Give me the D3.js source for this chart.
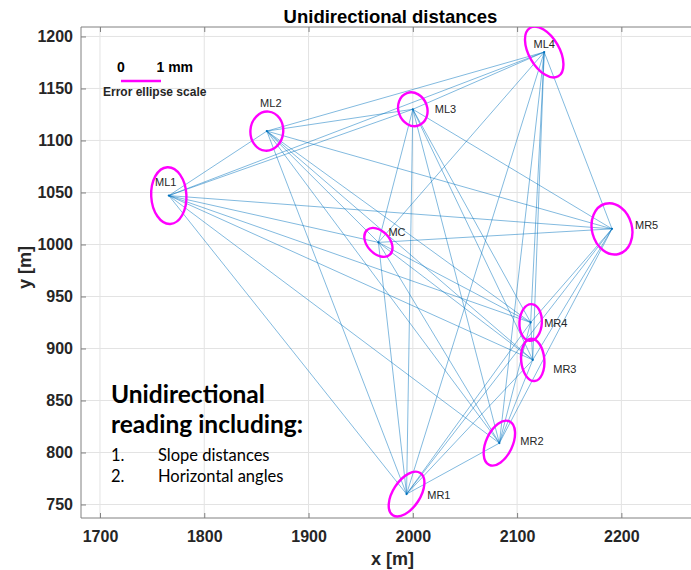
<!DOCTYPE html>
<html><head><meta charset="utf-8">
<script src="https://cdn.jsdelivr.net/npm/d3@7"></script>
<style>html,body{margin:0;padding:0;background:#fff;}svg{display:block;}</style>
</head><body>
<script>
// ---- data ----
const stations = ["ML1","ML2","ML3","ML4","MC","MR5","MR4","MR3","MR2","MR1"];
const stationX = [1766, 1860, 2000, 2126, 1967, 2191, 2113, 2115, 2083, 1994];
const stationY = [1047, 1109, 1130, 1185, 1002, 1015, 925, 889, 809, 760];
// error ellipse semi-axes (mm) and orientation of major axis from vertical (deg, + = top leans right)
const ellipseA = [0.71, 0.49, 0.43, 0.70, 0.42, 0.65, 0.46, 0.53, 0.60, 0.63];
const ellipseB = [0.44, 0.41, 0.36, 0.38, 0.28, 0.50, 0.28, 0.29, 0.33, 0.34];
const ellipseRot = [-3, 5, -20, -30, -43, -15, 3, -5, 25, 33];
// unidirectional observations (from, to)
const obsFrom = ["ML1","ML1","ML1","ML1","ML1","ML1","ML1","ML1","ML1",
  "ML2","ML2","ML2","ML2","ML2","ML2","ML2","ML2",
  "ML3","ML3","ML3","ML3","ML3","ML3","ML3",
  "ML4","ML4","ML4","ML4","ML4","ML4",
  "MC","MC","MC","MC","MC",
  "MR5","MR5","MR5","MR5",
  "MR4","MR4","MR4",
  "MR3","MR3",
  "MR2"];
const obsTo = ["ML2","ML3","ML4","MC","MR5","MR4","MR3","MR2","MR1",
  "ML3","ML4","MC","MR5","MR4","MR3","MR2","MR1",
  "ML4","MC","MR5","MR4","MR3","MR2","MR1",
  "MC","MR5","MR4","MR3","MR2","MR1",
  "MR5","MR4","MR3","MR2","MR1",
  "MR4","MR3","MR2","MR1",
  "MR3","MR2","MR1",
  "MR2","MR1",
  "MR1"];
const xTicks = [1700, 1800, 1900, 2000, 2100, 2200];
const yTicks = [750, 800, 850, 900, 950, 1000, 1050, 1100, 1150, 1200];
const titleText = "Unidirectional distances";
const xLabel = "x [m]", yLabel = "y [m]";
const noteTitle = ["Unidirectional", "reading including:"];
const noteItems = ["Slope distances", "Horizontal angles"];

// ---- layout ----
const W = 691, H = 570;
const L = 81, R = 700, T = 27, B = 518;
const x = d3.scaleLinear().domain([1681.8, 2275.4]).range([L, R]);
const y = d3.scaleLinear().domain([737.0, 1209.1]).range([B, T]);
const mm = d3.scaleLinear().domain([0, 1]).range([0, 40]);

const svg = d3.select("body").append("svg").attr("width", W).attr("height", H)
  .style("font-family", "'Liberation Sans', Arial, sans-serif");

svg.append("defs").append("clipPath").attr("id", "clip")
  .append("rect").attr("x", L).attr("y", T).attr("width", R - L).attr("height", B - T);

// grid
const grid = svg.append("g");
grid.selectAll(".gx").data(xTicks).join("line")
  .attr("x1", d => x(d)).attr("x2", d => x(d)).attr("y1", T).attr("y2", B)
  .attr("stroke", "#e3e3e3").attr("stroke-width", 1);
grid.selectAll(".gy").data(yTicks).join("line")
  .attr("y1", d => y(d)).attr("y2", d => y(d)).attr("x1", L).attr("x2", R)
  .attr("stroke", "#e3e3e3").attr("stroke-width", 1);

// axes with inward ticks
const axisColor = "#808080";
const gxB = svg.append("g").attr("transform", `translate(0,${B})`)
  .call(d3.axisBottom(x).tickValues(xTicks).tickSize(-5).tickPadding(13).tickFormat(d3.format("d")));
const gxT = svg.append("g").attr("transform", `translate(0,${T})`)
  .call(d3.axisTop(x).tickValues(xTicks).tickSize(-5).tickFormat(""));
const gyL = svg.append("g").attr("transform", `translate(${L},0)`)
  .call(d3.axisLeft(y).tickValues(yTicks).tickSize(-5).tickPadding(8).tickFormat(d3.format("d")));
[gxB, gxT, gyL].forEach(g => {
  g.select(".domain").attr("stroke", axisColor).attr("stroke-width", 1);
  g.selectAll(".tick line").attr("stroke", axisColor);
  g.selectAll(".tick text").attr("fill", "#262626").style("font-size", "16px")
    .style("font-weight", "bold").style("font-family", "'Liberation Sans', Arial, sans-serif");
});
gxB.select(".domain").attr("d", `M${L},0H${R}`);
gxT.select(".domain").attr("d", `M${L},0H${R}`);
gyL.select(".domain").attr("d", `M0,${T}V${B}`);

// observation lines
const idx = name => stations.indexOf(name);
const plot = svg.append("g").attr("clip-path", "url(#clip)");
plot.selectAll(".obs").data(obsFrom.map((f, i) => [idx(f), idx(obsTo[i])])).join("line")
  .attr("x1", d => x(stationX[d[0]])).attr("y1", d => y(stationY[d[0]]))
  .attr("x2", d => x(stationX[d[1]])).attr("y2", d => y(stationY[d[1]]))
  .attr("stroke", "#0072BD").attr("stroke-opacity", 0.7).attr("stroke-width", 0.7);

// station dots
plot.selectAll(".pt").data(stations).join("circle")
  .attr("cx", (d, i) => x(stationX[i])).attr("cy", (d, i) => y(stationY[i]))
  .attr("r", 1.1).attr("fill", "#0072BD");

// error ellipses
plot.selectAll(".ell").data(stations).join("ellipse")
  .attr("cx", 0).attr("cy", 0)
  .attr("rx", (d, i) => mm(ellipseB[i])).attr("ry", (d, i) => mm(ellipseA[i]))
  .attr("transform", (d, i) => `translate(${x(stationX[i])},${y(stationY[i])}) rotate(${ellipseRot[i]})`)
  .attr("fill", "none").attr("stroke", "#ff00ff").attr("stroke-width", 2.4);

// station labels
const labelOff = {
  ML1: [-3, -9.5, "middle"], ML2: [4, -24.5, "middle"], ML3: [22, 4, "start"], ML4: [0, -4, "middle"],
  MC: [10, -6.5, "start"], MR5: [23, 0, "start"], MR4: [13.5, 5, "start"], MR3: [20.5, 13, "start"],
  MR2: [21, 1.5, "start"], MR1: [20.7, 5, "start"]
};
svg.selectAll(".lab").data(stations).join("text")
  .attr("x", (d, i) => x(stationX[i]) + labelOff[d][0])
  .attr("y", (d, i) => y(stationY[i]) + labelOff[d][1])
  .attr("text-anchor", d => labelOff[d][2])
  .attr("fill", "#262626").style("font-size", "11px").text(d => d);

// title and axis labels
svg.append("text").attr("x", (L + R) / 2).attr("y", 23).attr("text-anchor", "middle")
  .style("font-size", "18.5px").style("font-weight", "bold").attr("fill", "#000").text(titleText);
svg.append("text").attr("x", (L + R) / 2 + 2).attr("y", 565).attr("text-anchor", "middle")
  .style("font-size", "18px").style("font-weight", "bold").attr("fill", "#262626").text(xLabel);
svg.append("text").attr("transform", `translate(31,${(T + B) / 2 - 5}) rotate(-90)`).attr("text-anchor", "middle")
  .style("font-size", "18px").style("font-weight", "bold").attr("fill", "#262626").text(yLabel);

// error ellipse scale bar
const sb = svg.append("g").attr("transform", "translate(121,0)");
sb.append("line").attr("x1", mm(0)).attr("x2", mm(1)).attr("y1", 81).attr("y2", 81)
  .attr("stroke", "#ff00ff").attr("stroke-width", 2.6);
sb.append("text").attr("x", mm(0)).attr("y", 72).attr("text-anchor", "middle")
  .style("font-size", "14px").style("font-weight", "bold").text("0");
sb.append("text").attr("x", mm(1) - 4.5).attr("y", 72)
  .style("font-size", "14px").style("font-weight", "bold").text("1 mm");
sb.append("text").attr("x", -18).attr("y", 96)
  .style("font-size", "12px").style("font-weight", "bold").attr("fill", "#262626").text("Error ellipse scale");

// annotation text
const note = svg.append("g").style("font-family", "Lato, 'Open Sans', sans-serif");
note.selectAll(".nt").data(noteTitle).join("text")
  .attr("x", 111).attr("y", (d, i) => 403 + i * 30)
  .style("font-size", "24.5px").style("font-weight", "bold").attr("fill", "#000").text(d => d);
note.selectAll(".nn").data(noteItems).join("text")
  .attr("x", 111).attr("y", (d, i) => 461 + i * 21)
  .style("font-size", "16.5px").attr("fill", "#000").text((d, i) => (i + 1) + ".");
note.selectAll(".ni").data(noteItems).join("text")
  .attr("x", 158).attr("y", (d, i) => 461 + i * 21)
  .style("font-size", "16.5px").attr("fill", "#000").text(d => d);
</script>
</body></html>
